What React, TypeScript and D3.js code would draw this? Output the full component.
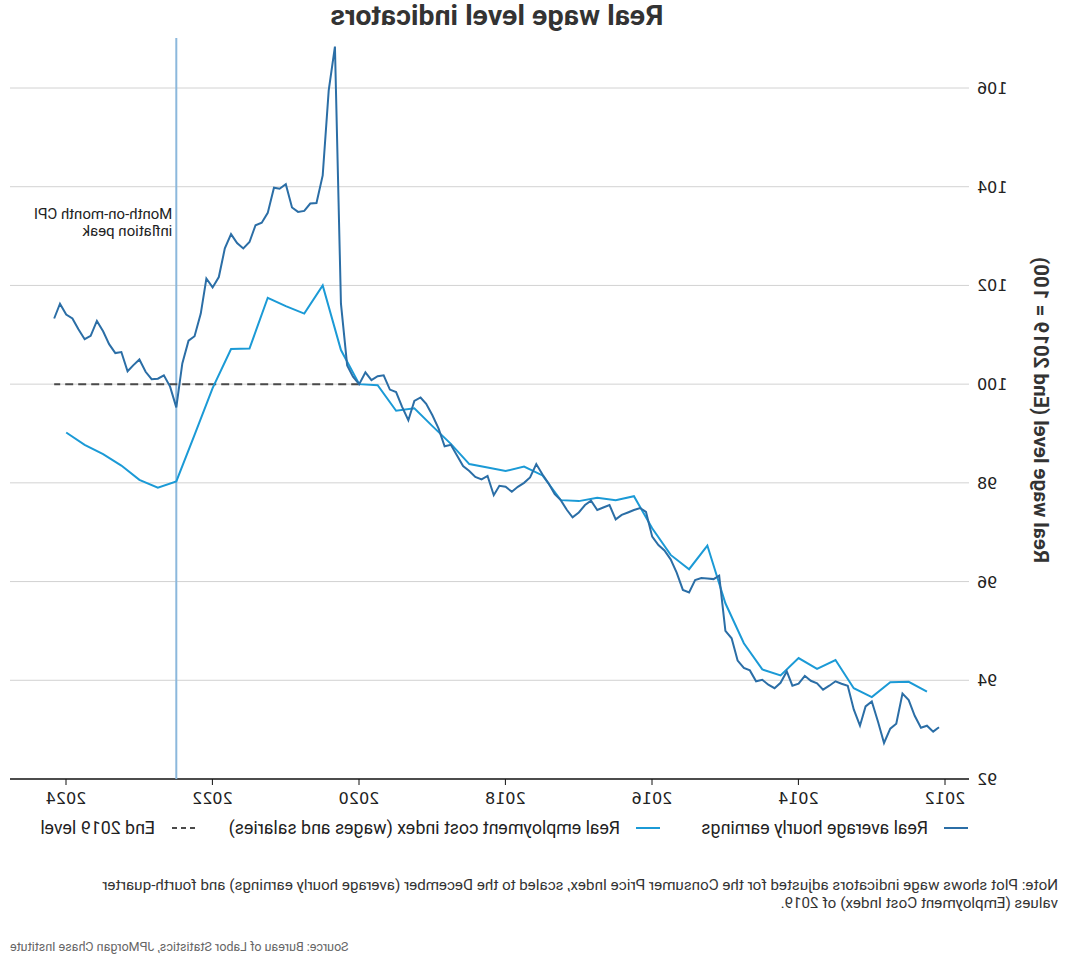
import React from "react";
import * as d3 from "d3";

// Real average hourly earnings, monthly, Jan 2012 – Feb 2024 (End 2019 = 100)
const aheStart = { year: 2012, month: 0 };
const aheValues = [
  93.05, 92.96, 93.08, 93.04, 93.28, 93.6, 93.73, 93.12, 93.02, 92.73, 93.16, 93.57,
  93.47, 93.08, 93.41, 93.89, 93.93, 93.98, 93.89, 93.81, 93.94, 93.99, 94.09, 93.93,
  93.89, 94.18, 93.95, 93.84, 93.91, 94.01, 93.98, 94.2, 94.25, 94.4, 94.85, 95.0,
  96.12, 96.05, 96.06, 96.07, 96.03, 95.78, 95.83, 96.18, 96.45, 96.63, 96.74, 96.91,
  97.41, 97.49, 97.45, 97.4, 97.35, 97.26, 97.55, 97.5, 97.45, 97.64, 97.55, 97.4,
  97.3, 97.45, 97.65, 97.77, 97.99, 98.17, 98.38, 98.11, 98.0, 97.92, 97.82, 97.92,
  97.94, 97.75, 98.14, 98.07, 98.12, 98.24, 98.34, 98.56, 98.77, 98.74, 99.1, 99.37,
  99.6, 99.73, 99.66, 99.27, 99.54, 99.84, 99.89, 100.18, 100.16, 100.08, 100.24, 100.0,
  100.15, 100.38, 101.63, 106.84, 105.95, 104.23, 103.67, 103.66, 103.51, 103.49, 103.58, 104.05,
  103.96, 103.98, 103.47, 103.27, 103.22, 102.88, 102.75, 102.86, 103.04, 102.75, 102.17, 101.96,
  102.14, 101.43, 100.97, 100.88, 100.42, 99.53, 99.95, 100.18, 100.11, 100.1, 100.25, 100.5,
  100.38, 100.26, 100.65, 100.63, 100.81, 101.07, 101.28, 100.98, 100.91, 101.11, 101.33, 101.41,
  101.63, 101.33,
];

// Real employment cost index (wages and salaries), quarterly, Q1 2012 – Q4 2023
const eciStart = { year: 2012, quarter: 0 };
const eciValues = [
  93.77, 93.97, 93.96, 93.66,
  93.84, 94.41, 94.23, 94.45,
  94.1, 94.22, 94.75, 95.56,
  96.73, 96.25, 96.54, 97.08,
  97.73, 97.65, 97.7, 97.63,
  97.65, 98.15, 98.33, 98.24,
  98.31, 98.38, 98.79, 99.15,
  99.51, 99.46, 99.98, 100.0,
  100.69, 102.0, 101.43, 101.58,
  101.75, 100.72, 100.71, 99.92,
  98.97, 98.03, 97.9, 98.06,
  98.35, 98.58, 98.77, 99.02,
];

const yTicks = [92, 94, 96, 98, 100, 102, 104, 106];
const xTickYears = [2012, 2014, 2016, 2018, 2020, 2022, 2024];
const baselineValue = 100;
const baselineFrom = new Date(2019, 12, 0); // end of Dec 2019
const cpiPeakDate = new Date(2022, 6, 0); // end of June 2022

const title = "Real wage level indicators";
const yLabel = "Real wage level (End 2019 = 100)";
const legendItems = [
  { label: "Real average hourly earnings", kind: "ahe" },
  { label: "Real employment cost index (wages and salaries)", kind: "eci" },
  { label: "End 2019 level", kind: "base" },
];
const annotationLines = ["Month-on-month CPI", "inflation peak"];
const noteLines = [
  "Note: Plot shows wage indicators adjusted for the Consumer Price Index, scaled to the December (average hourly earnings) and fourth-quarter",
  "values (Employment Cost Index) of 2019.",
];
const sourceText = "Source: Bureau of Labor Statistics, JPMorgan Chase Institute";

const COLORS = {
  ahe: "#2b6ea6",
  eci: "#1b9ad6",
  base: "#4a4a4a",
  vline: "#8cb8dc",
  grid: "#d2d2d2",
  text: "#333333",
};

const NARROW = "'Liberation Sans Narrow', 'Roboto', sans-serif";
const TICKFONT = "'DejaVu Sans', sans-serif";

export default function App() {
  const W = 1070;
  const H = 962;

  const x = d3
    .scaleTime()
    .domain([new Date(2012, 0, 1), new Date(2024, 0, 1)])
    .range([125, 1004]);
  const y = d3.scaleLinear().domain([92, 106]).range([779, 88]);

  const ahe = aheValues.map((v, i) => ({
    date: new Date(aheStart.year, aheStart.month + i + 1, 0),
    value: v,
  }));
  const eci = eciValues.map((v, i) => ({
    date: new Date(eciStart.year, 3 * (eciStart.quarter + i + 1), 0),
    value: v,
  }));

  const line = d3
    .line<{ date: Date; value: number }>()
    .x((d) => x(d.date))
    .y((d) => y(d.value));

  const lastDate = ahe[ahe.length - 1].date;
  const gridX0 = 101;
  const gridX1 = 1060;

  const legendX = [102, 410, 875];
  const legendY = 828;

  return (
    <svg
      width={W}
      height={H}
      style={{ position: "absolute", left: 0, top: 0, background: "#fff" }}
    >
      <g transform={`translate(${W},0) scale(-1,1)`}>
        {/* title */}
        <text
          x={W / 2 + 38}
          y={25}
          textAnchor="middle"
          fontFamily={NARROW}
          fontWeight="bold"
          fontSize={28.5}
          fill={COLORS.text}
        >
          {title}
        </text>

        {/* grid */}
        {yTicks.map((t) => (
          <g key={t}>
            <line
              x1={gridX0}
              x2={gridX1}
              y1={y(t)}
              y2={y(t)}
              stroke={t === 92 ? "#111" : COLORS.grid}
              strokeWidth={t === 92 ? 1.5 : 1}
            />
            <text
              x={93}
              y={y(t) + 6}
              textAnchor="end"
              fontFamily={TICKFONT}
              fontSize={16}
              fill="#222"
            >
              {t}
            </text>
          </g>
        ))}

        {/* x ticks */}
        {xTickYears.map((yr) => {
          const xx = x(new Date(yr, 0, 1));
          return (
            <g key={yr}>
              <line x1={xx} x2={xx} y1={779} y2={785} stroke="#111" strokeWidth={1} />
              <text
                x={xx}
                y={804}
                textAnchor="middle"
                fontFamily={TICKFONT}
                fontSize={16}
                fill="#222"
              >
                {yr}
              </text>
            </g>
          );
        })}

        {/* y label */}
        <text
          transform={`translate(36,${410}) rotate(-90)`}
          textAnchor="middle"
          fontFamily={NARROW}
          fontWeight="bold"
          fontSize={20.5}
          fill={COLORS.text}
        >
          {yLabel}
        </text>

        {/* CPI peak line */}
        <line
          x1={x(cpiPeakDate)}
          x2={x(cpiPeakDate)}
          y1={38}
          y2={779}
          stroke={COLORS.vline}
          strokeWidth={2}
        />
        {annotationLines.map((t, i) => (
          <text
            key={t}
            x={x(cpiPeakDate) + 4}
            y={219 + i * 17}
            fontFamily={NARROW}
            fontSize={15}
            fill="#222"
          >
            {t}
          </text>
        ))}

        {/* baseline */}
        <line
          x1={x(baselineFrom)}
          x2={x(lastDate)}
          y1={y(baselineValue)}
          y2={y(baselineValue)}
          stroke={COLORS.base}
          strokeWidth={2}
          strokeDasharray="8,5"
        />

        {/* series */}
        <path d={line(eci) || ""} fill="none" stroke={COLORS.eci} strokeWidth={2} />
        <path d={line(ahe) || ""} fill="none" stroke={COLORS.ahe} strokeWidth={2} />

        {/* legend */}
        {legendItems.map((item, i) => (
          <g key={item.label} transform={`translate(${legendX[i]},${legendY})`}>
            <line
              x1={0}
              x2={24}
              y1={0}
              y2={0}
              stroke={COLORS[item.kind as "ahe" | "eci" | "base"]}
              strokeWidth={2}
              strokeDasharray={item.kind === "base" ? "5,4" : undefined}
            />
            <text x={40} y={6} fontFamily={NARROW} fontSize={17.8} fill="#222">
              {item.label}
            </text>
          </g>
        ))}

        {/* note */}
        {noteLines.map((t, i) => (
          <text
            key={i}
            x={12}
            y={890 + i * 18}
            fontFamily={NARROW}
            fontSize={15.2}
            fill={COLORS.text}
          >
            {t}
          </text>
        ))}
        <text
          x={1060}
          y={951}
          textAnchor="end"
          fontFamily={NARROW}
          fontSize={12.5}
          fill="#666"
        >
          {sourceText}
        </text>
      </g>
    </svg>
  );
}
